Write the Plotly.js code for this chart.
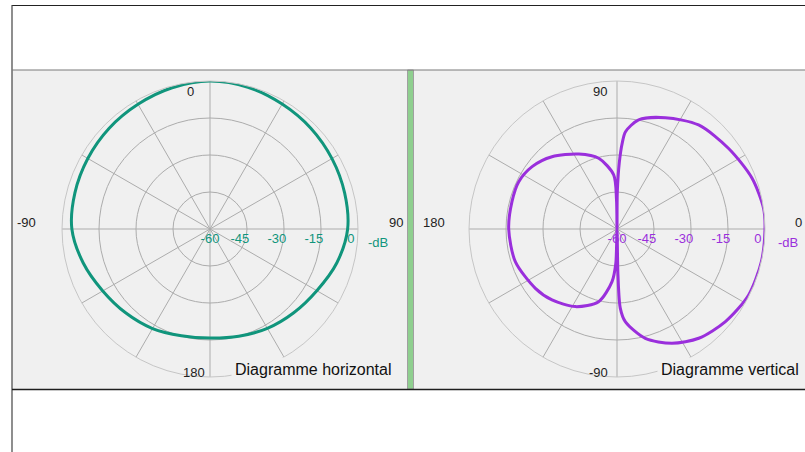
<!DOCTYPE html>
<html>
<head>
<meta charset="utf-8">
<script src="https://cdn.plot.ly/plotly-3.0.1.min.js"></script>
<style>
  html, body { margin: 0; padding: 0; background: #ffffff; }
  #chart { width: 805px; height: 452px; }
</style>
</head>
<body>
<div id="chart"></div>
<script>
// ---------------- data ----------------
// Horizontal diagram: azimuth (deg, 0 = front/top, clockwise) and level (dB)
const hAngles = [0, 15, 30, 45, 60, 75, 90, 105, 120, 135, 150, 165, 180,
                 195, 210, 225, 240, 255, 270, 285, 300, 315, 330, 345, 360];
const hLevels = [0, -0.5, -1.5, -2.2, -2.9, -3.5, -4.2, -6.8, -10, -12, -13.5, -15, -15.8,
                 -15.2, -13.4, -11.8, -9.8, -6.8, -4, -3.3, -2.8, -2.2, -1.6, -0.7, 0];

// Vertical diagram: elevation (deg, 0 = right, counter-clockwise) and level (dB)
const vAngles = [0, 8, 20.6, 35.8, 51.9, 66.5, 78.8, 85, 86.5, 88, 89.5, 90,
                 91, 93.5, 104.5, 117, 132, 143.7, 154.3, 165.4, 180, 197.8, 216, 227.5, 241.8, 255.8, 264.6, 268,
                 270, 271.2, 272.4, 275.1, 284.5, 295.7, 306.8, 319.5, 333.4, 347.3, 360];
const vLevels = [0, 0, -1.5, -4.2, -6.4, -10.8, -14.9, -20.4, -25, -33, -45, -60,
                 -48, -38, -30.4, -25.9, -20.6, -17.3, -15.8, -16, -16.1, -16.7, -19.1, -21, -24.3, -29.6, -38.6, -46,
                 -60, -41.4, -27.8, -22.3, -14.2, -8.6, -4.7, -2.2, -0.3, 0, 0];

const radialTicks = [-60, -45, -30, -15, 0];
const radialTickText = ['-60', '-45', '-30', '-15', '0'];
const hAngleLabels = ['0', '90', '180', '-90'];
const vAngleLabels = ['90', '0', '-90', '180'];
const titles = ['Diagramme horizontal', 'Diagramme vertical'];
const unitLabel = '-dB';

// ---------------- layout helpers ----------------
const W = 805, H = 452;
const fx = x => x / W;
const fy = y => 1 - y / H;

const teal = '#10957c';
const purple = '#9a2fdc';
const gridCol = '#acacac';
const ringCol = '#c6c6c6';
const panelBg = '#f0f0f0';
const FONT = 'Liberation Sans, Arial, sans-serif';

const R = 148;
const cL = [210, 229], cR = [617, 229];

// labels sit just left of their ring (pad with non-breaking spaces)
const NB = '\u00a0\u00a0\u00a0\u00a0';
const shiftedTickText = radialTickText.map((t, i) => i === 0 ? t : t + NB);

function polarLayout(center, rot, dir, col) {
  return {
    domain: { x: [fx(center[0] - R), fx(center[0] + R)], y: [fy(center[1] + R), fy(center[1] - R)] },
    bgcolor: 'rgba(0,0,0,0)',
    angularaxis: {
      rotation: rot, direction: dir, dtick: 30, tickmode: 'linear', tick0: 0,
      showticklabels: false, ticks: '',
      showgrid: true, gridcolor: gridCol, gridwidth: 1,
      showline: true, linecolor: ringCol, linewidth: 1
    },
    radialaxis: {
      range: [-60, 0], angle: 0, side: 'clockwise',
      tickmode: 'array', tickvals: radialTicks, ticktext: shiftedTickText,
      ticks: '', showline: false, showgrid: true, gridcolor: gridCol, gridwidth: 1,
      tickfont: { family: FONT, size: 13, color: col }
    }
  };
}

const traces = [
  {
    type: 'scatterpolar', subplot: 'polar', mode: 'lines',
    theta: hAngles, r: hLevels,
    line: { color: teal, width: 3, shape: 'spline', smoothing: 1 },
    hoverinfo: 'skip'
  },
  {
    type: 'scatterpolar', subplot: 'polar2', mode: 'lines',
    theta: vAngles, r: vLevels,
    line: { color: purple, width: 3, shape: 'spline', smoothing: 0.8 },
    hoverinfo: 'skip'
  }
];

function ann(text, x, y, color, size, xanchor, extra) {
  return Object.assign({
    text: text, xref: 'paper', yref: 'paper', x: fx(x), y: fy(y),
    xanchor: xanchor || 'center', yanchor: 'middle', showarrow: false,
    font: { family: FONT, size: size || 13, color: color || '#222222' }
  }, extra || {});
}

const annotations = [
  // angular labels, horizontal diagram
  ann(hAngleLabels[0], 190.5, 91),
  ann(hAngleLabels[1], 396, 222),
  ann(hAngleLabels[2], 194, 372),
  ann(hAngleLabels[3], 27, 222),
  // angular labels, vertical diagram
  ann(vAngleLabels[0], 600, 91),
  ann(vAngleLabels[1], 798.5, 222),
  ann(vAngleLabels[2], 598, 372),
  ann(vAngleLabels[3], 434, 222),
  // unit labels
  ann(unitLabel, 378, 242, teal),
  ann(unitLabel, 788, 242, purple),
  // titles
  ann(titles[0], 396, 369, '#111111', 16, 'right', { bgcolor: panelBg, borderpad: 3 }),
  ann(titles[1], 803, 369, '#111111', 16, 'right', { bgcolor: panelBg, borderpad: 3 })
];

const shapes = [
  // panel backgrounds
  { type: 'rect', xref: 'paper', yref: 'paper', x0: fx(12), x1: fx(407), y0: fy(389), y1: fy(70),
    fillcolor: panelBg, line: { width: 0 }, layer: 'below' },
  { type: 'rect', xref: 'paper', yref: 'paper', x0: fx(414), x1: fx(805), y0: fy(389), y1: fy(70),
    fillcolor: panelBg, line: { width: 0 }, layer: 'below' },
  // splitter
  { type: 'rect', xref: 'paper', yref: 'paper', x0: fx(407.5), x1: fx(413.5), y0: fy(389), y1: fy(70),
    fillcolor: '#8fcf8f', line: { color: '#a0a0a0', width: 1 }, layer: 'below' },
  // outer frame
  { type: 'line', xref: 'paper', yref: 'paper', x0: fx(12), x1: fx(805), y0: fy(5.5), y1: fy(5.5),
    line: { color: '#222222', width: 1.2 } },
  { type: 'line', xref: 'paper', yref: 'paper', x0: fx(12), x1: fx(12), y0: fy(5), y1: fy(452),
    line: { color: '#444444', width: 1.2 } },
  // panel top / bottom lines
  { type: 'line', xref: 'paper', yref: 'paper', x0: fx(12), x1: fx(805), y0: fy(70), y1: fy(70),
    line: { color: '#7a7a7a', width: 1.2 } },
  { type: 'line', xref: 'paper', yref: 'paper', x0: fx(12), x1: fx(805), y0: fy(389.5), y1: fy(389.5),
    line: { color: '#1e1e1e', width: 1.6 } }
];

const layout = {
  width: W, height: H,
  margin: { l: 0, r: 0, t: 0, b: 0 },
  paper_bgcolor: '#ffffff',
  showlegend: false,
  polar: polarLayout(cL, 90, 'clockwise', teal),
  polar2: polarLayout(cR, 0, 'counterclockwise', purple),
  annotations: annotations,
  shapes: shapes
};

Plotly.newPlot('chart', traces, layout, { displayModeBar: false, staticPlot: true });
</script>
</body>
</html>
